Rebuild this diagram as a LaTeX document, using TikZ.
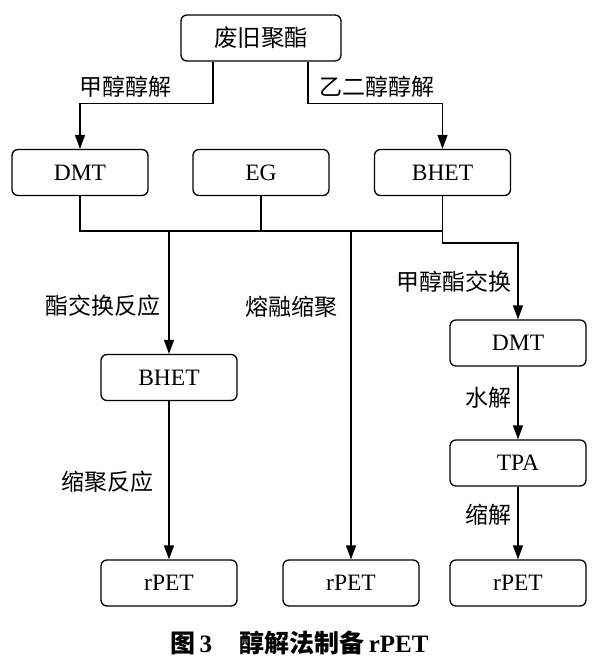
\documentclass[tikz,border=0pt]{standalone}
\usepackage{fontspec}
\setmainfont{Liberation Serif}
\newfontfamily\cjk{Noto Sans CJK SC}
\usetikzlibrary{arrows.meta}
\begin{document}
\begin{tikzpicture}[x=1pt,y=-1pt,
  box/.style={draw,line width=1.3pt,rounded corners=6pt,minimum width=136pt,minimum height=46pt,inner sep=0pt,font=\fontsize{23.5}{27}\selectfont},
  lbl/.style={inner sep=0pt,font=\fontsize{23}{27}\selectfont\cjk},
  ln/.style={line width=1.3pt},
  arr/.style={line width=1.3pt,-{Triangle[length=14pt,width=10pt]}}]
\useasboundingbox (0,0) rectangle (599,667);
\node[box,minimum width=160pt] (top) at (261,38) {\cjk 废旧聚酯};
\node[box] (dmt) at (80,172.5) {DMT};
\node[box] (eg) at (261,172.5) {EG};
\node[box] (bhet) at (442.5,172.5) {BHET};
\node[box] (bhet2) at (169,377.5) {BHET};
\node[box] (dmt2) at (518,343) {DMT};
\node[box] (tpa) at (518,463) {TPA};
\node[box] (rpet1) at (169,583) {rPET};
\node[box] (rpet2) at (351,583) {rPET};
\node[box] (rpet3) at (518,583) {rPET};
\coordinate (bus) at (0,231);
\draw[arr] ([xshift=-48pt]top.south) -- ++(0,42) -| (dmt.north);
\draw[arr] ([xshift=47pt]top.south) -- ++(0,42) -| (bhet.north);
\draw[ln] (dmt.south) -- (dmt.south |- bus) -- (bhet.south |- bus) -- (bhet.south);
\draw[ln] (eg.south) -- (eg.south |- bus);
\draw[arr] (bhet2.north |- bus) -- (bhet2.north);
\draw[arr] (rpet2.north |- bus) -- (rpet2.north);
\draw[arr] (bhet.south |- bus) -- ++(0,12) -| (dmt2.north);
\draw[arr] (dmt2) -- (tpa);
\draw[arr] (tpa) -- (rpet3);
\draw[arr] (bhet2) -- (rpet1);
\node[lbl] (l1) at (125.5,87) {甲醇醇解};
\node[lbl] (l2) at (376.5,87) {乙二醇醇解};
\node[lbl] (l3) at (103,306) {酯交换反应};
\node[lbl] (l4) at (291,307) {熔融缩聚};
\node[lbl] (l5) at (453.5,282) {甲醇酯交换};
\node[lbl] (l6) at (488.5,398) {水解};
\node[lbl] (l7) at (488.5,515) {缩解};
\node[lbl] (l8) at (107.5,482) {缩聚反应};
\node[inner sep=0pt,font=\fontsize{25}{29}\selectfont\bfseries] (cap) at (299.5,643) {{\cjk 图}\,3\hspace{1.1em}{\cjk 醇解法制备}\,rPET};
\end{tikzpicture}
\end{document}
